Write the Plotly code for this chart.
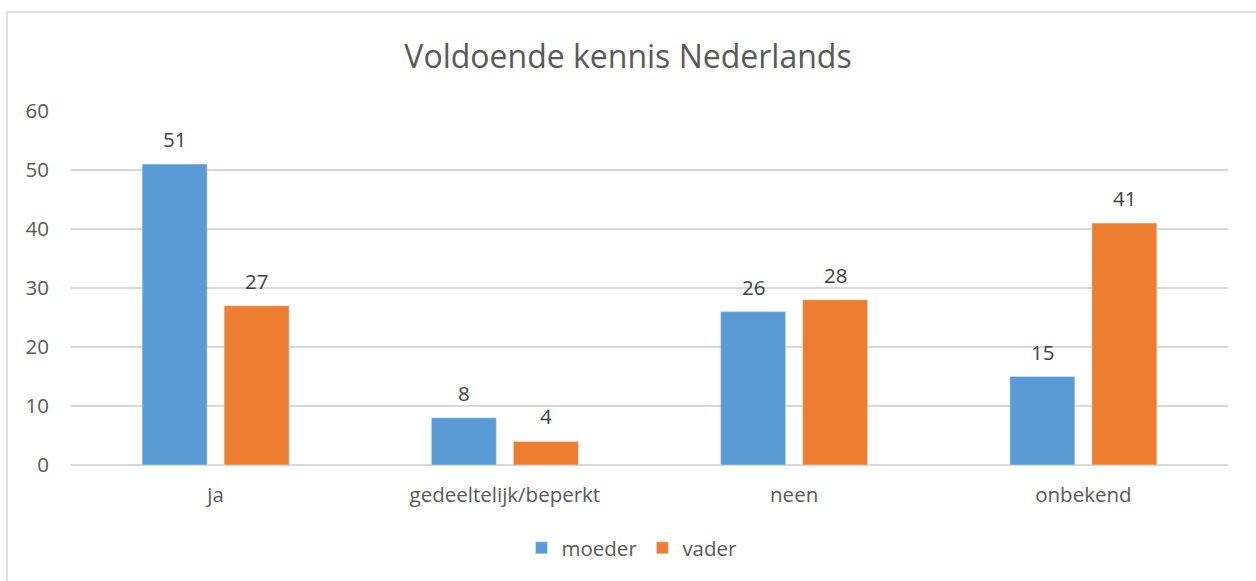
import plotly.graph_objects as go

categories = ["ja", "gedeeltelijk/beperkt", "neen", "onbekend"]
moeder = [51, 8, 26, 15]
vader = [27, 4, 28, 41]

W, H = 1256, 581
L, R, T, B = 71, 28, 111, 116
pw = W - L - R
ph = H - T - B

font = "Open Sans, Noto Sans, Liberation Sans, sans-serif"
small = 20.5

fig = go.Figure()
fig.add_bar(name="moeder", x=categories, y=moeder, marker_color="#5b9bd5")
fig.add_bar(name="vader", x=categories, y=vader, marker_color="#ed7d31")

# data labels positioned through the axes
for vals, shift in ((moeder, -41), (vader, 41)):
    for c, v in zip(categories, vals):
        fig.add_annotation(x=c, y=v, xref="x", yref="y", text=str(v), showarrow=False,
                           xshift=shift, yshift=25, yanchor="middle",
                           font=dict(size=small, color="#404040", family=font))

def px(x):
    return (x - L) / pw

def py(y):
    return (H - B - y) / ph

fig.add_shape(type="line", xref="paper", yref="paper", x0=px(7), x1=px(1260),
              y0=py(12), y1=py(12), line=dict(color="#d9d9d9", width=1.5))
fig.add_shape(type="line", xref="paper", yref="paper", x0=px(7), x1=px(7),
              y0=py(12), y1=py(590), line=dict(color="#d9d9d9", width=1.5))

fig.update_layout(
    width=W, height=H,
    margin=dict(l=L, r=R, t=T, b=B),
    paper_bgcolor="white", plot_bgcolor="white",
    barmode="group", bargap=0.433, bargroupgap=0.207,
    title=dict(text="Voldoende kennis Nederlands", x=0.5, xanchor="center",
               y=1 - 57 / H, yanchor="middle",
               font=dict(size=32, color="#595959", family=font)),
    font=dict(family=font, color="#595959", size=small),
    xaxis=dict(showgrid=False, showline=False, ticks="", ticklabelstandoff=15,
               tickfont=dict(size=small, color="#595959")),
    yaxis=dict(range=[0, 60], dtick=10, showgrid=True, gridcolor="#d9d9d9", gridwidth=1.5,
               zeroline=True, zerolinecolor="#d9d9d9", zerolinewidth=1.5,
               showline=False, ticks="", ticklabelstandoff=21,
               tickfont=dict(size=small, color="#595959")),
    legend=dict(orientation="h", x=px(632), xanchor="center", y=py(548), yanchor="middle",
                font=dict(size=small, color="#595959")),
)

fig.write_html("out.html", config={"displayModeBar": False},
               post_script="document.body.style.margin='0';")
